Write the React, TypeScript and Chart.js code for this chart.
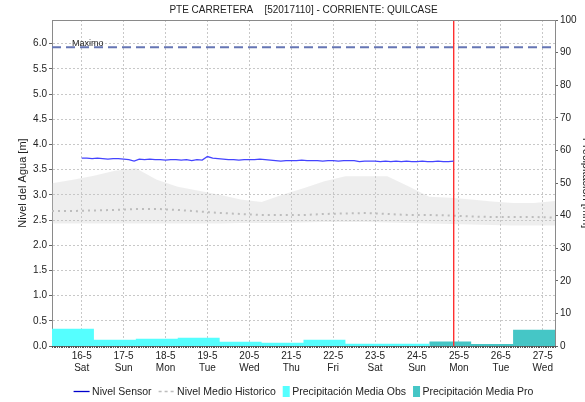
import React, { useEffect, useRef } from 'react';
import { Chart, registerables } from 'chart.js';

Chart.register(...registerables);

// ---------- data ----------
const chartTitle = 'PTE CARRETERA    [52017110] - CORRIENTE: QUILCASE';
const levelAxisTitle = 'Nivel del Agua [m]';
const precipAxisTitle = 'Precipitación [mm]';
const maxLabel = 'Maximo';

// x axis in hours from 15-5 07:00
const axisEndHour = 288;
const dayTickHours = [17, 41, 65, 89, 113, 137, 161, 185, 209, 233, 257, 281];
const dayLabels = ['16-5', '17-5', '18-5', '19-5', '20-5', '21-5', '22-5', '23-5', '24-5', '25-5', '26-5', '27-5'];
const weekdayLabels = ['Sat', 'Sun', 'Mon', 'Tue', 'Wed', 'Thu', 'Fri', 'Sat', 'Sun', 'Mon', 'Tue', 'Wed'];

const levelTicks = [0, 0.5, 1, 1.5, 2, 2.5, 3, 3.5, 4, 4.5, 5, 5.5, 6];
const levelMax = 6.47;
const precipMax = 100;

// daily precipitation (mm), each bar covers 07:00 -> 07:00
const precipDayStartHours = [0, 24, 48, 72, 96, 120, 144, 168, 192, 216, 240, 264, 288];
const precipObs = [5.3, 1.9, 2.2, 2.5, 1.3, 1.0, 1.9, 0.7, 0.7];
const precipPro = [1.4, 0.6, 5.0];

// sensor level (m), every 3 h from 16-5 00:00
const sensorHours = [
  17, 20, 23, 26, 29, 32, 35, 38, 41, 44, 47, 50, 53, 56, 59, 62, 65, 68, 71, 74, 77, 80, 83, 86,
  89, 92, 95, 98, 101, 104, 107, 110, 113, 116, 119, 122, 125, 128, 131, 134, 137, 140, 143, 146,
  149, 152, 155, 158, 161, 164, 167, 170, 173, 176, 179, 182, 185, 188, 191, 194, 197, 200, 203,
  206, 209, 212, 215, 218, 221, 224, 227, 230,
];
const sensorLevels = [
  3.73, 3.73, 3.72, 3.73, 3.72, 3.71, 3.72, 3.72, 3.71, 3.70, 3.67, 3.71, 3.70, 3.71, 3.70, 3.70,
  3.69, 3.70, 3.70, 3.69, 3.70, 3.68, 3.70, 3.69, 3.76, 3.73, 3.72, 3.71, 3.70, 3.70, 3.69, 3.70,
  3.70, 3.70, 3.71, 3.70, 3.69, 3.68, 3.67, 3.68, 3.68, 3.68, 3.69, 3.68, 3.68, 3.68, 3.67, 3.68,
  3.68, 3.67, 3.68, 3.68, 3.68, 3.66, 3.67, 3.67, 3.67, 3.66, 3.67, 3.66, 3.67, 3.66, 3.67, 3.66,
  3.66, 3.67, 3.66, 3.66, 3.67, 3.66, 3.66, 3.67,
];

// historic statistics (m), every 12 h
const historicHours = [0, 12, 24, 36, 48, 60, 72, 84, 96, 108, 120, 132, 144, 156, 168, 180, 192, 204, 216, 228, 240, 252, 264, 276, 288];
const historicMaxLevels = [3.23, 3.30, 3.38, 3.48, 3.53, 3.30, 3.16, 3.08, 3.00, 2.91, 2.86, 3.00, 3.13, 3.27, 3.37, 3.37, 3.37, 3.17, 2.96, 2.94, 2.91, 2.87, 2.84, 2.84, 2.88];
const historicMinLevels = [2.43, 2.43, 2.43, 2.43, 2.43, 2.43, 2.43, 2.43, 2.43, 2.44, 2.44, 2.44, 2.45, 2.46, 2.46, 2.46, 2.45, 2.44, 2.43, 2.42, 2.41, 2.40, 2.39, 2.39, 2.39];
const historicMeanLevels = [2.68, 2.68, 2.69, 2.70, 2.72, 2.72, 2.70, 2.67, 2.64, 2.62, 2.60, 2.60, 2.60, 2.62, 2.63, 2.64, 2.62, 2.60, 2.60, 2.59, 2.57, 2.56, 2.56, 2.56, 2.55];

const maxLevel = 5.93;
const nowHour = 230;

// ---------- styles ----------
const FONT = 'Liberation Sans, Arial, Helvetica, sans-serif';
const colors = {
  sensor: '#4444ff',
  sensorLegend: '#0000cc',
  mean: '#bdbdbd',
  band: 'rgba(200,200,200,0.3)',
  obs: '#55ffff',
  pro: '#45c6c6',
  max: '#6676b4',
  now: '#ff3030',
  grid: '#c8c8c8',
  axis: '#8a8a8a',
  text: '#222222',
};

const legendItems = [
  { label: 'Nivel Sensor', kind: 'line', color: colors.sensorLegend, dash: [] as number[] },
  { label: 'Nivel Medio Historico', kind: 'line', color: colors.mean, dash: [3, 3] },
  { label: 'Precipitación Media Obs', kind: 'box', color: colors.obs, dash: [] as number[] },
  { label: 'Precipitación Media Pro', kind: 'box', color: colors.pro, dash: [] as number[] },
];

const decorPlugin = {
  id: 'decor',
  afterDraw(chart: any) {
    const { ctx, chartArea } = chart;
    const { left, right, top, bottom } = chartArea;
    const cx = (left + right) / 2;
    ctx.save();
    // top frame
    ctx.strokeStyle = colors.axis;
    ctx.lineWidth = 1;
    ctx.beginPath();
    ctx.moveTo(left, Math.round(top) + 0.5);
    ctx.lineTo(right, Math.round(top) + 0.5);
    ctx.stroke();
    // hourly minor ticks on time axis
    const xs = chart.scales.x;
    ctx.strokeStyle = '#555';
    for (let h = 0; h <= axisEndHour; h += 1) {
      const px = Math.round(xs.getPixelForValue(h)) + 0.5;
      ctx.beginPath();
      ctx.moveTo(px, bottom);
      ctx.lineTo(px, bottom + 2);
      ctx.stroke();
    }
    // title
    ctx.fillStyle = colors.text;
    ctx.font = `10px ${FONT}`;
    ctx.textAlign = 'center';
    ctx.textBaseline = 'middle';
    ctx.fillText(chartTitle, cx, 10);
    // max label
    const ys = chart.scales.y;
    ctx.font = `9px ${FONT}`;
    ctx.textAlign = 'left';
    ctx.textBaseline = 'alphabetic';
    ctx.fillText(maxLabel, 72, ys.getPixelForValue(maxLevel) - 1.5);
    // legend
    ctx.font = `10.5px ${FONT}`;
    const widths = legendItems.map((it) => {
      const sym = it.kind === 'line' ? 16 : 7;
      return sym + 2.5 + ctx.measureText(it.label).width;
    });
    const spacing = 7;
    const total = widths.reduce((a, b) => a + b, 0) + spacing * (legendItems.length - 1);
    let x = cx - total / 2;
    const ly = 391;
    legendItems.forEach((it, i) => {
      if (it.kind === 'line') {
        ctx.strokeStyle = it.color;
        ctx.lineWidth = it.dash.length ? 1.5 : 1.3;
        ctx.setLineDash(it.dash);
        ctx.beginPath();
        ctx.moveTo(x, ly + 0.5);
        ctx.lineTo(x + 16, ly + 0.5);
        ctx.stroke();
        ctx.setLineDash([]);
        ctx.fillStyle = colors.text;
        ctx.textBaseline = 'middle';
        ctx.fillText(it.label, x + 18.5, ly + 1);
      } else {
        ctx.fillStyle = it.color;
        ctx.fillRect(x, ly - 5, 7, 11);
        ctx.fillStyle = colors.text;
        ctx.textBaseline = 'middle';
        ctx.fillText(it.label, x + 9.5, ly + 1);
      }
      x += widths[i] + spacing;
    });
    ctx.restore();
  },
};

function stepData(starts: number[], values: number[], offset: number) {
  const pts = values.map((v, i) => ({ x: starts[offset + i], y: v }));
  pts.push({ x: starts[offset + values.length], y: values[values.length - 1] });
  return pts;
}

export default function App() {
  const ref = useRef<HTMLCanvasElement>(null);

  useEffect(() => {
    document.body.style.margin = '0';
    const canvas = ref.current;
    if (!canvas) return;
    Chart.defaults.font.family = FONT;
    Chart.defaults.color = colors.text;

    const chart = new Chart(canvas, {
      type: 'line',
      data: {
        datasets: [
          {
            label: 'Nivel Sensor',
            data: sensorHours.map((h, i) => ({ x: h, y: sensorLevels[i] })),
            borderColor: colors.sensor,
            borderWidth: 1.3,
            pointRadius: 0,
            tension: 0,
            yAxisID: 'y',
          },
          {
            label: 'Ahora',
            data: [
              { x: nowHour, y: 0 },
              { x: nowHour, y: levelMax },
            ],
            borderColor: colors.now,
            borderWidth: 1.4,
            pointRadius: 0,
            yAxisID: 'y',
          },
          {
            label: 'Maximo',
            data: [
              { x: 0, y: maxLevel },
              { x: axisEndHour, y: maxLevel },
            ],
            borderColor: colors.max,
            borderWidth: 2,
            borderDash: [9, 5],
            pointRadius: 0,
            yAxisID: 'y',
          },
          {
            label: 'Nivel Medio Historico',
            data: historicHours.map((h, i) => ({ x: h, y: historicMeanLevels[i] })),
            borderColor: colors.mean,
            borderWidth: 2,
            borderDash: [2, 4],
            pointRadius: 0,
            yAxisID: 'y',
          },
          {
            label: 'Precipitación Media Obs',
            data: stepData(precipDayStartHours, precipObs, 0),
            stepped: 'before',
            borderWidth: 0,
            borderColor: colors.obs,
            backgroundColor: colors.obs,
            fill: 'origin',
            pointRadius: 0,
            yAxisID: 'y1',
          },
          {
            label: 'Precipitación Media Pro',
            data: stepData(precipDayStartHours, precipPro, precipObs.length),
            stepped: 'before',
            borderWidth: 0,
            borderColor: colors.pro,
            backgroundColor: colors.pro,
            fill: 'origin',
            pointRadius: 0,
            yAxisID: 'y1',
          },
          {
            label: 'Historico Min',
            data: historicHours.map((h, i) => ({ x: h, y: historicMinLevels[i] })),
            borderWidth: 0,
            borderColor: 'rgba(0,0,0,0)',
            pointRadius: 0,
            fill: false,
            yAxisID: 'y',
          },
          {
            label: 'Historico Max',
            data: historicHours.map((h, i) => ({ x: h, y: historicMaxLevels[i] })),
            borderWidth: 0,
            borderColor: 'rgba(0,0,0,0)',
            backgroundColor: colors.band,
            pointRadius: 0,
            fill: 6,
            yAxisID: 'y',
          },
        ],
      },
      options: {
        responsive: false,
        animation: false,
        devicePixelRatio: 1,
        layout: { padding: { top: 20, left: 0, right: 0, bottom: 0 } },
        plugins: {
          legend: { display: false },
          title: { display: false },
          tooltip: { enabled: false },
        },
        scales: {
          x: {
            type: 'linear',
            min: 0,
            max: axisEndHour,
            afterBuildTicks: (scale: any) => {
              scale.ticks = dayTickHours.map((v) => ({ value: v }));
            },
            afterFit: (scale: any) => {
              scale.height = 56;
            },
            ticks: {
              autoSkip: false,
              maxRotation: 0,
              padding: 4,
              font: { size: 10 },
              color: colors.text,
              callback: (value: any) => {
                const i = dayTickHours.indexOf(Number(value));
                return i >= 0 ? [dayLabels[i], weekdayLabels[i]] : '';
              },
            },
            grid: { color: colors.grid, drawTicks: false, lineWidth: 1 },
            border: { color: '#666', dash: [2, 2] },
          },
          y: {
            type: 'linear',
            position: 'left',
            min: 0,
            max: levelMax,
            afterBuildTicks: (scale: any) => {
              scale.ticks = levelTicks.map((v) => ({ value: v }));
            },
            afterFit: (scale: any) => {
              scale.width = 52;
            },
            ticks: {
              padding: 2,
              font: { size: 10 },
              color: colors.text,
              callback: (value: any) => Number(value).toFixed(1),
            },
            grid: {
              color: colors.grid,
              tickColor: '#666',
              tickLength: 3,
              tickBorderDash: [],
              lineWidth: 1,
            },
            border: { color: colors.axis, dash: [2, 2] },
            title: {
              display: true,
              text: levelAxisTitle,
              font: { size: 11 },
              color: colors.text,
              padding: { top: 16.5, bottom: 0 },
            },
          },
          y1: {
            type: 'linear',
            position: 'right',
            min: 0,
            max: precipMax,
            afterFit: (scale: any) => {
              scale.width = 45;
            },
            ticks: {
              stepSize: 10,
              padding: 2,
              font: { size: 10 },
              color: colors.text,
            },
            grid: {
              drawOnChartArea: false,
              color: '#666',
              tickColor: '#666',
              tickLength: 3,
            },
            border: { color: colors.axis },
            title: {
              display: true,
              text: precipAxisTitle,
              font: { size: 11 },
              color: colors.text,
              padding: { top: 7, bottom: 0 },
            },
          },
        },
      },
      plugins: [decorPlugin],
    } as any);

    return () => chart.destroy();
  }, []);

  return (
    <div style={{ width: 585, height: 402, overflow: 'hidden', position: 'relative' }}>
      <canvas ref={ref} width={600} height={402} style={{ display: 'block', width: 600, height: 402 }} />
    </div>
  );
}
